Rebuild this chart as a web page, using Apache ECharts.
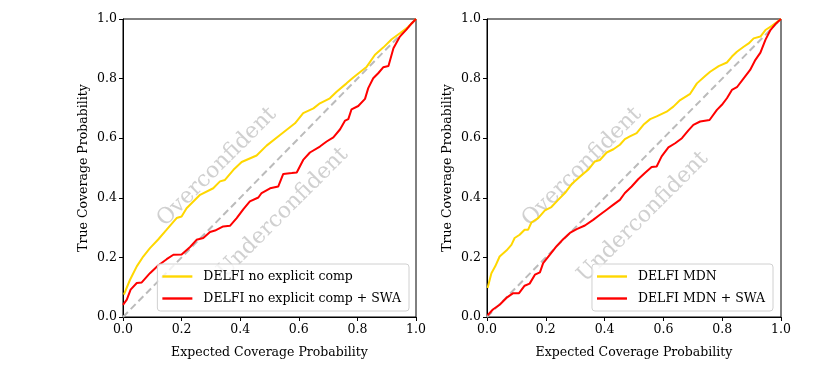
<!DOCTYPE html>
<html>
<head>
<meta charset="utf-8">
<script src="https://cdn.jsdelivr.net/npm/echarts@6/dist/echarts.min.js"></script>
<style>
  html, body { margin: 0; padding: 0; background: #fff; }
  #chart { width: 822px; height: 374px; }
</style>
</head>
<body>
<div id="chart"></div>
<script>
  // left panel: DELFI no explicit comp
  const leftBase = [
    [0.003, 0.075], [0.024, 0.125], [0.047, 0.17], [0.069, 0.203], [0.092, 0.231],
    [0.12, 0.26], [0.149, 0.293], [0.183, 0.332], [0.2, 0.337], [0.217, 0.365],
    [0.263, 0.41], [0.308, 0.432], [0.331, 0.455], [0.348, 0.46], [0.377, 0.494],
    [0.405, 0.52], [0.456, 0.542], [0.49, 0.575], [0.536, 0.611], [0.587, 0.65],
    [0.615, 0.684], [0.65, 0.7], [0.672, 0.717], [0.706, 0.734], [0.729, 0.756],
    [0.763, 0.784], [0.786, 0.804], [0.832, 0.84], [0.86, 0.88], [0.888, 0.904],
    [0.917, 0.932], [0.945, 0.952], [0.974, 0.974], [1, 1]
  ]
  const leftSwa = [
    [0, 0.041], [0.013, 0.058], [0.026, 0.092], [0.047, 0.114], [0.064, 0.116],
    [0.092, 0.147], [0.12, 0.173], [0.149, 0.194], [0.172, 0.209], [0.2, 0.21],
    [0.229, 0.235], [0.251, 0.259], [0.274, 0.265], [0.297, 0.285], [0.314, 0.29],
    [0.342, 0.304], [0.365, 0.306], [0.388, 0.332], [0.411, 0.362], [0.433, 0.388],
    [0.462, 0.401], [0.473, 0.416], [0.502, 0.432], [0.53, 0.438], [0.547, 0.48],
    [0.576, 0.483], [0.593, 0.485], [0.615, 0.527], [0.638, 0.552], [0.672, 0.572],
    [0.695, 0.589], [0.718, 0.603], [0.741, 0.63], [0.758, 0.659], [0.769, 0.664],
    [0.78, 0.697], [0.803, 0.708], [0.826, 0.732], [0.837, 0.768], [0.854, 0.801],
    [0.871, 0.818], [0.888, 0.838], [0.906, 0.842], [0.923, 0.902], [0.945, 0.941],
    [0.968, 0.965], [0.985, 0.985], [1, 1]
  ]
  // right panel: DELFI MDN
  const rightBase = [
    [0.002, 0.097], [0.015, 0.147], [0.028, 0.17], [0.043, 0.203], [0.066, 0.223],
    [0.083, 0.242], [0.094, 0.265], [0.111, 0.276], [0.128, 0.293], [0.14, 0.293],
    [0.151, 0.317], [0.174, 0.332], [0.197, 0.358], [0.219, 0.369], [0.242, 0.393],
    [0.265, 0.416], [0.288, 0.446], [0.316, 0.471], [0.344, 0.494], [0.367, 0.522],
    [0.384, 0.527], [0.407, 0.552], [0.43, 0.563], [0.452, 0.578], [0.469, 0.597],
    [0.486, 0.606], [0.509, 0.617], [0.532, 0.645], [0.555, 0.664], [0.577, 0.673],
    [0.611, 0.689], [0.634, 0.706], [0.657, 0.728], [0.691, 0.749], [0.714, 0.784],
    [0.742, 0.809], [0.759, 0.823], [0.788, 0.842], [0.816, 0.854], [0.833, 0.874],
    [0.85, 0.89], [0.873, 0.907], [0.89, 0.918], [0.907, 0.935], [0.93, 0.941],
    [0.947, 0.963], [0.969, 0.977], [1, 1]
  ]
  const rightSwa = [
    [0.002, 0.006], [0.02, 0.025], [0.043, 0.041], [0.066, 0.064], [0.089, 0.08],
    [0.109, 0.08], [0.128, 0.105], [0.145, 0.112], [0.163, 0.142], [0.18, 0.15],
    [0.191, 0.181], [0.214, 0.209], [0.236, 0.237], [0.259, 0.261], [0.282, 0.282],
    [0.305, 0.295], [0.333, 0.307], [0.361, 0.326], [0.384, 0.343], [0.407, 0.36],
    [0.43, 0.377], [0.452, 0.393], [0.469, 0.416], [0.492, 0.438], [0.515, 0.463],
    [0.537, 0.483], [0.56, 0.503], [0.577, 0.505], [0.594, 0.539], [0.617, 0.569],
    [0.64, 0.583], [0.663, 0.6], [0.685, 0.626], [0.702, 0.645], [0.725, 0.656],
    [0.757, 0.661], [0.782, 0.695], [0.799, 0.712], [0.816, 0.734], [0.833, 0.762],
    [0.85, 0.771], [0.873, 0.801], [0.895, 0.829], [0.913, 0.863], [0.93, 0.887],
    [0.947, 0.93], [0.964, 0.963], [0.981, 0.983], [1, 1]
  ]
  const diagonal = [[0, 0], [1, 1]]
  const leftNames = ['DELFI no explicit comp', 'DELFI no explicit comp + SWA']
  const rightNames = ['DELFI MDN', 'DELFI MDN + SWA']

  let myChart = echarts.init(document.getElementById('chart'))
  const font = '"DejaVu Serif", "Liberation Serif", serif'
  const yellow = '#FFD700'
  const red = '#FF0000'

  function xAx(i) {
    return {
      type: 'value', gridIndex: i, min: 0, max: 1, interval: 0.2,
      name: 'Expected Coverage Probability', nameLocation: 'middle', nameGap: 29,
      nameTextStyle: { fontFamily: font, fontSize: 12.5, color: '#000' },
      axisLine: { show: true, onZero: false, lineStyle: { color: '#000', width: 1 } },
      axisTick: { show: true, inside: false, length: 4, lineStyle: { color: '#000' } },
      axisLabel: { fontFamily: font, fontSize: 12.5, color: '#000', margin: 6,
        formatter: v => v.toFixed(1) },
      splitLine: { show: false }
    }
  }
  function yAx(i) {
    return {
      type: 'value', gridIndex: i, min: 0, max: 1, interval: 0.2,
      name: 'True Coverage Probability', nameLocation: 'middle', nameGap: 33,
      nameTextStyle: { fontFamily: font, fontSize: 12.5, color: '#000' },
      axisLine: { show: true, onZero: false, lineStyle: { color: '#000', width: 1 } },
      axisTick: { show: true, inside: false, length: 4, lineStyle: { color: '#000' } },
      axisLabel: { fontFamily: font, fontSize: 12.5, color: '#000', margin: 6,
        formatter: v => v.toFixed(1) },
      splitLine: { show: false }
    }
  }
  function line(name, data, color, i) {
    return {
      name: name, type: 'line', xAxisIndex: i, yAxisIndex: i, data: data,
      showSymbol: false, symbol: 'none', silent: true,
      lineStyle: { color: color, width: 2 }, itemStyle: { color: color }
    }
  }
  function diag(i) {
    return {
      type: 'line', xAxisIndex: i, yAxisIndex: i, data: diagonal,
      symbol: 'none', silent: true, z: 1,
      lineStyle: { color: '#bbbbbb', width: 2, type: [7, 4] }
    }
  }
  function legend(names, right) {
    return {
      data: names, orient: 'vertical', right: right, bottom: 63,
      icon: 'path://M0,0 L30,0 L30,2.4 L0,2.4 Z', itemWidth: 30, itemHeight: 2.4,
      itemGap: 9,
      textStyle: { fontFamily: font, fontSize: 12.5, color: '#000', padding: [0, 0, 0, 6] },
      backgroundColor: 'rgba(255,255,255,0.8)', borderColor: '#d0d0d0',
      borderWidth: 1, borderRadius: 3, padding: [6, 8, 6, 5]
    }
  }
  function mark(text, x, y) {
    return {
      type: 'text', x: x, y: y, rotation: Math.PI / 4, z: 0,
      style: { text: text, fontFamily: font, fontSize: 22, fill: 'rgba(170,170,170,0.55)',
        align: 'center', verticalAlign: 'middle' }
    }
  }

  const option = {
    animation: false,
    grid: [
      { left: 123, top: 19, width: 293, height: 298, show: true, borderColor: '#000', borderWidth: 1 },
      { left: 487, top: 19, width: 294, height: 298, show: true, borderColor: '#000', borderWidth: 1 }
    ],
    xAxis: [xAx(0), xAx(1)],
    yAxis: [yAx(0), yAx(1)],
    legend: [legend(leftNames, 822 - 409), legend(rightNames, 822 - 773)],
    graphic: [
      mark('Overconfident', 217, 167), mark('Underconfident', 283, 213),
      mark('Overconfident', 582, 167), mark('Underconfident', 643, 217)
    ],
    series: [
      diag(0),
      line(leftNames[0], leftBase, yellow, 0),
      line(leftNames[1], leftSwa, red, 0),
      diag(1),
      line(rightNames[0], rightBase, yellow, 1),
      line(rightNames[1], rightSwa, red, 1)
    ]
  }
  myChart.setOption(option)
</script>
</body>
</html>
